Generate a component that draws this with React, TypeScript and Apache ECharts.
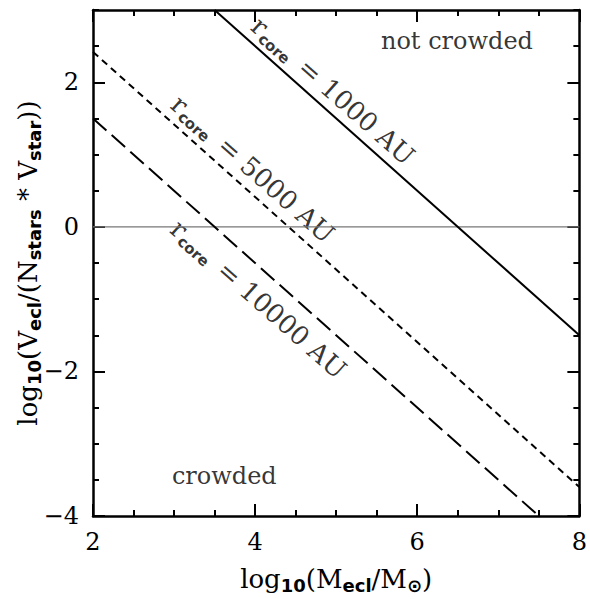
import React, { useEffect, useRef } from 'react';
import * as echarts from 'echarts';

// ---- data ----
const X_RANGE = [2, 8];
const Y_RANGE = [-4, 3];
const xMajorTicks = [2, 4, 6, 8];
const yMajorTicks = [-4, -2, 0, 2];
const MINOR_STEP = 0.5;

const zeroLine = [[2, 0], [8, 0]];
const core1000 = [[3.5, 3], [8, -1.5]];
const core5000 = [[2, 2.42], [8, -3.6]];
const core10000 = [[2, 1.5], [7.5, -4]];

const lineLabels = ['1000', '5000', '10000'];
const lineLabelAnchors = [[4.96, 1.88], [3.97, 0.8], [4.04, -1.0]];
const regionLabels = ['not crowded', 'crowded'];
const regionAnchors = [[6.49, 2.57], [3.62, -3.45]];

// ---- layout / style ----
const W = 590;
const H = 599;
const GRID = { left: 93, right: 7, top: 10, bottom: 83 };
const SERIF = '"DejaVu Serif", serif';
const SANS = '"DejaVu Sans", sans-serif';
const BLACK = '#000';

const fmt = (v: number) => (v < 0 ? '\u2212' + Math.abs(v) : String(v));

const titleRich = {
  m: { fontFamily: SERIF, fontSize: 26, lineHeight: 30, color: BLACK },
  s: { fontFamily: SANS, fontWeight: 'bold', fontSize: 18, lineHeight: 5, verticalAlign: 'bottom', color: BLACK },
};

function makeAxis(
  dim: 'x' | 'y',
  position: string,
  major: boolean,
  labels: boolean,
  extra: any = {}
) {
  const range = dim === 'x' ? X_RANGE : Y_RANGE;
  const ticks = dim === 'x' ? xMajorTicks : yMajorTicks;
  const base: any = {
    type: 'value',
    position,
    min: range[0],
    max: range[1],
    interval: major ? 2 : MINOR_STEP,
    splitLine: { show: false },
    axisLine: { show: major, onZero: false, lineStyle: { color: BLACK, width: 2.5 } },
    axisTick: major
      ? { show: true, inside: true, length: 12, customValues: ticks, lineStyle: { color: BLACK, width: 2 } }
      : { show: true, inside: true, length: 6, lineStyle: { color: BLACK, width: 2 } },
    axisLabel: labels
      ? {
          show: true,
          customValues: ticks,
          margin: 14,
          color: BLACK,
          fontFamily: SERIF,
          fontSize: 24,
          formatter: (v: number) => fmt(v),
        }
      : { show: false },
    axisPointer: { show: false },
  };
  return { ...base, ...extra };
}

export default function App() {
  const ref = useRef<HTMLDivElement>(null);

  useEffect(() => {
    if (!ref.current) return;
    const chart = echarts.init(ref.current, null, { renderer: 'svg' });

    const gridW = W - GRID.left - GRID.right;
    const gridH = H - GRID.top - GRID.bottom;
    const pxX = gridW / (X_RANGE[1] - X_RANGE[0]);
    const pxY = gridH / (Y_RANGE[1] - Y_RANGE[0]);
    const angle = (Math.atan(pxY / pxX) * 180) / Math.PI;

    const lineSeries = (data: number[][], lineStyle: any) => ({
      type: 'line',
      xAxisIndex: 0,
      yAxisIndex: 0,
      data,
      symbol: 'none',
      silent: true,
      clip: true,
      lineStyle,
    });

    const option: any = {
      animation: false,
      backgroundColor: '#fff',
      grid: { ...GRID, containLabel: false },
      xAxis: [
        makeAxis('x', 'bottom', true, true, {
          name: '{m|log}{s|10}{m|(M}{s|ecl}{m|/M}{s|\u2299}{m|)}',
          nameLocation: 'middle',
          nameGap: 48,
          nameMoveOverlap: false,
          nameTextStyle: { rich: titleRich },
        }),
        makeAxis('x', 'bottom', false, false),
        makeAxis('x', 'top', true, false),
        makeAxis('x', 'top', false, false),
      ],
      yAxis: [
        makeAxis('y', 'left', true, true, {
          name: '{m|log}{s|10}{m|(V}{s|ecl}{m|/(N}{s|stars}{m| * V}{s|star}{m|))}',
          nameLocation: 'middle',
          nameRotate: 90,
          nameGap: 50,
          nameMoveOverlap: false,
          nameTextStyle: { rich: titleRich },
        }),
        makeAxis('y', 'left', false, false),
        makeAxis('y', 'right', true, false),
        makeAxis('y', 'right', false, false),
      ],
      series: [
        lineSeries(zeroLine, { color: '#777', width: 1.2, type: 'solid' }),
        lineSeries(core1000, { color: BLACK, width: 2, type: 'solid' }),
        lineSeries(core5000, { color: BLACK, width: 2, type: [7, 5] }),
        lineSeries(core10000, { color: BLACK, width: 2, type: [18, 7] }),
        {
          type: 'scatter',
          xAxisIndex: 0,
          yAxisIndex: 0,
          symbolSize: 0,
          silent: true,
          itemStyle: { color: 'transparent' },
          data: lineLabelAnchors.map((p, i) => ({
            value: p,
            label: { formatter: `{r|r}{c|core}{m| = ${lineLabels[i]} AU}` },
          })),
          label: {
            show: true,
            position: 'inside',
            rotate: -angle,
            rich: {
              r: { fontFamily: SERIF, fontSize: 26, lineHeight: 30, color: BLACK },
              c: { fontFamily: SANS, fontWeight: 'bold', fontSize: 15, lineHeight: 2, verticalAlign: 'bottom', color: BLACK, padding: [0, 4, 0, 1] },
              m: { fontFamily: SERIF, fontSize: 26, lineHeight: 30, color: BLACK },
            },
          },
        },
        {
          type: 'scatter',
          xAxisIndex: 0,
          yAxisIndex: 0,
          symbolSize: 0,
          silent: true,
          itemStyle: { color: 'transparent' },
          data: regionAnchors.map((p, i) => ({ value: p, label: { formatter: regionLabels[i] } })),
          label: {
            show: true,
            position: 'inside',
            fontFamily: SERIF,
            fontSize: 24,
            color: BLACK,
          },
        },
      ],
    };

    chart.setOption(option);
    return () => {
      chart.dispose();
    };
  }, []);

  return (
    <div
      ref={ref}
      style={{ position: 'fixed', left: 0, top: 0, width: W, height: H, background: '#fff' }}
    />
  );
}
